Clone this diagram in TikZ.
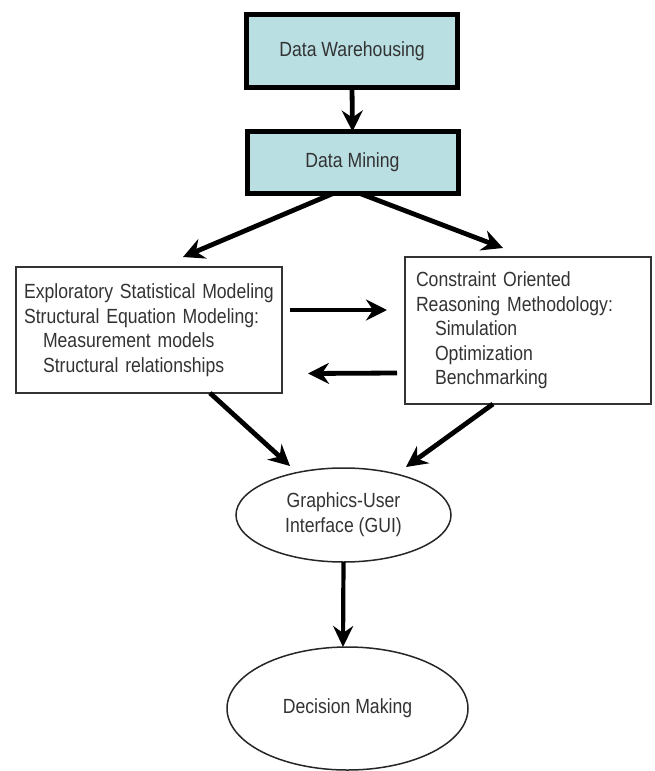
\documentclass[tikz,border=0pt]{standalone}
\usepackage{fontspec}
\setmainfont{Liberation Sans}[FakeStretch=0.86]
\usetikzlibrary{arrows.meta,shapes.geometric}
\definecolor{boxcyan}{HTML}{B9DFE2}
\definecolor{txt}{HTML}{333333}
\tikzset{
  topbox/.style={draw=black, line width=5pt, fill=boxcyan, minimum width=211pt, inner sep=0pt, outer sep=0pt, text=txt, font=\fontsize{20.5}{24}\selectfont},
  textbox/.style={draw=black!80, line width=1.5pt, fill=white, inner sep=0pt, outer sep=0pt, align=left, text=txt, font=\fontsize{20.5}{24.5}\selectfont},
  oval/.style={ellipse, draw=black!85, line width=1.5pt, inner sep=0pt, outer sep=0pt, align=center, text=txt, font=\fontsize{20.5}{25}\selectfont},
  bigarrow/.style={line width=4.8pt, -{Stealth[length=21pt,width=21pt,inset=7pt]}},
  midarrow/.style={line width=4.2pt, -{Stealth[length=21pt,width=20pt,inset=7pt]}}
}
\newcommand{\ind}{\hspace*{19pt}}
\begin{document}
\begin{tikzpicture}[x=1pt,y=-1pt]
\useasboundingbox (0,0) rectangle (654,771);
\node[topbox, minimum height=73pt] (dw) at (352,51) {Data Warehousing};
\node[topbox, minimum height=62pt] (dm) at (352.5,162.5) {Data Mining};
\node[textbox, text width=250pt, minimum height=126pt, inner xsep=8pt] (lb) at (149,330)
  {\hyphenpenalty=10000 Exploratory Statistical Modeling\\Structural Equation Modeling:\\\ind Measurement models\\\ind Structural relationships};
\node[textbox, text width=224pt, minimum height=147pt, inner xsep=11pt] (rb) at (528,330.5)
  {\hyphenpenalty=10000 Constraint Oriented\\Reasoning Methodology:\\\ind Simulation\\\ind Optimization\\\ind Benchmarking};
\node[oval, minimum width=215pt, minimum height=94pt] (gui) at (343.5,515) {Graphics-User\\Interface (GUI)};
\node[oval, minimum width=241pt, minimum height=123pt] (dec) at (347.5,708.5) {Decision Making};

\draw[bigarrow] (dw.south) -- (dm.north);
\draw[bigarrow] ([xshift=-19.5pt]dm.south) -- ([xshift=34pt,yshift=10pt]lb.north);
\draw[bigarrow] ([xshift=7.5pt]dm.south) -- ([xshift=-25pt,yshift=9pt]rb.north);
\draw[bigarrow] ([xshift=8pt,yshift=20pt]lb.east) -- ([xshift=-18pt,yshift=20.5pt]rb.west);
\draw[bigarrow] ([xshift=-8pt,yshift=-42.5pt]rb.west) -- ([xshift=26pt,yshift=-43.5pt]lb.east);
\draw[bigarrow] ([xshift=61pt]lb.south) -- ([xshift=-53.5pt,yshift=2pt]gui.north);
\draw[bigarrow] ([xshift=-35pt]rb.south) -- ([xshift=62.5pt,yshift=1pt]gui.north);
\draw[midarrow] (gui.south) -- ([xshift=-4.5pt]dec.north);
\end{tikzpicture}
\end{document}
